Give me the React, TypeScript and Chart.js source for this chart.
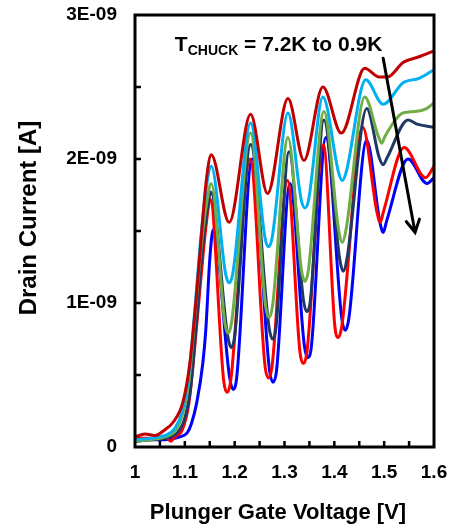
import React, { useEffect, useRef } from 'react';
import { Chart, registerables } from 'chart.js';

Chart.register(...registerables);

const FONT = '"Liberation Sans", Arial, Helvetica, sans-serif';

// Axis ticks (x in V, y in units of 1E-09 A)
const xTickValues = [1, 1.1, 1.2, 1.3, 1.4, 1.5, 1.6];
const xMinorTicks = [1.05, 1.1, 1.15, 1.2, 1.25, 1.3, 1.35, 1.4, 1.45, 1.5, 1.55];
const yTickLabels = ['0', '1E-09', '2E-09', '3E-09'];
const yMinorTicks = [0.5, 1, 1.5, 2, 2.5];

const seriesNames = ['7.2K', 'T2', 'T3', 'T4', 'T5', '0.9K'];
const seriesColors = ['#C00000', '#00B0F0', '#70AD47', '#1F3864', '#FF0000', '#0000FF'];

// Series 1 (7.2K, dark red)
const v1 = [1.0, 1.02, 1.04, 1.06, 1.076, 1.096, 1.11, 1.122, 1.134, 1.143, 1.153, 1.189, 1.232, 1.266, 1.307, 1.339, 1.377, 1.414, 1.461, 1.49, 1.507, 1.538, 1.57, 1.6];
const i1 = [0.07, 0.09, 0.08, 0.12, 0.17, 0.31, 0.58, 1.0, 1.5, 1.85, 2.03, 1.56, 2.31, 1.76, 2.42, 1.99, 2.5, 2.18, 2.63, 2.57, 2.57, 2.67, 2.71, 2.75];
// Series 2 (light blue)
const v2 = [1.0, 1.03, 1.06, 1.08, 1.095, 1.108, 1.12, 1.132, 1.143, 1.153, 1.182, 1.189, 1.196, 1.232, 1.261, 1.268, 1.275, 1.307, 1.334, 1.341, 1.348, 1.377, 1.409, 1.416, 1.423, 1.463, 1.498, 1.538, 1.57, 1.6];
const i2 = [0.05, 0.06, 0.08, 0.13, 0.25, 0.5, 0.95, 1.45, 1.8, 1.95, 1.2, 1.14, 1.2, 2.25, 1.45, 1.39, 1.45, 2.32, 1.71, 1.66, 1.71, 2.43, 1.9, 1.85, 1.9, 2.55, 2.38, 2.53, 2.56, 2.62];
// Series 3 (green)
const v3 = [1.0, 1.03, 1.06, 1.08, 1.095, 1.108, 1.12, 1.133, 1.144, 1.153, 1.18, 1.187, 1.194, 1.232, 1.262, 1.269, 1.276, 1.307, 1.334, 1.341, 1.348, 1.379, 1.409, 1.416, 1.423, 1.461, 1.488, 1.495, 1.502, 1.538, 1.562, 1.585, 1.6];
const i3 = [0.04, 0.05, 0.07, 0.11, 0.22, 0.45, 0.9, 1.4, 1.7, 1.83, 0.87, 0.79, 0.87, 2.18, 0.98, 0.9, 0.98, 2.15, 1.23, 1.15, 1.23, 2.33, 1.5, 1.42, 1.5, 2.43, 2.16, 2.11, 2.16, 2.32, 2.33, 2.35, 2.39];
// Series 4 (navy)
const v4 = [1.0, 1.03, 1.06, 1.085, 1.1, 1.112, 1.124, 1.136, 1.145, 1.152, 1.186, 1.193, 1.2, 1.232, 1.269, 1.276, 1.283, 1.309, 1.338, 1.345, 1.352, 1.379, 1.411, 1.418, 1.425, 1.465, 1.49, 1.498, 1.506, 1.548, 1.568, 1.6];
const i4 = [0.04, 0.05, 0.06, 0.1, 0.2, 0.42, 0.9, 1.4, 1.65, 1.77, 0.77, 0.69, 0.77, 2.1, 0.83, 0.75, 0.83, 2.05, 1.02, 0.94, 1.02, 2.27, 1.3, 1.22, 1.3, 2.35, 2.01, 1.96, 2.01, 2.27, 2.24, 2.22];
// Series 5 (red)
const v5 = [1.0, 1.03, 1.06, 1.072, 1.08, 1.095, 1.108, 1.12, 1.133, 1.143, 1.151, 1.178, 1.185, 1.192, 1.231, 1.261, 1.268, 1.275, 1.306, 1.331, 1.338, 1.345, 1.378, 1.401, 1.408, 1.415, 1.457, 1.485, 1.492, 1.499, 1.54, 1.583, 1.6];
const i5 = [0.06, 0.06, 0.07, 0.04, 0.07, 0.12, 0.3, 0.7, 1.2, 1.55, 1.72, 0.46, 0.38, 0.46, 2.0, 0.56, 0.48, 0.56, 1.85, 0.66, 0.58, 0.66, 2.1, 0.84, 0.76, 0.84, 2.22, 1.64, 1.56, 1.64, 2.08, 1.87, 1.95];
// Series 6 (0.9K, blue)
const v6 = [1.0, 1.03, 1.06, 1.09, 1.105, 1.113, 1.124, 1.136, 1.142, 1.15, 1.157, 1.19, 1.197, 1.204, 1.235, 1.27, 1.277, 1.284, 1.311, 1.34, 1.347, 1.354, 1.383, 1.415, 1.422, 1.429, 1.465, 1.491, 1.498, 1.505, 1.548, 1.586, 1.6];
const i6 = [0.04, 0.05, 0.05, 0.07, 0.1, 0.16, 0.31, 0.58, 0.81, 1.3, 1.51, 0.48, 0.4, 0.48, 2.0, 0.53, 0.45, 0.53, 1.83, 0.7, 0.62, 0.7, 2.15, 0.89, 0.81, 0.89, 2.13, 1.57, 1.49, 1.57, 2.0, 1.83, 1.87];

const seriesV = [v1, v2, v3, v4, v5, v6];
const seriesI = [i1, i2, i3, i4, i5, i6];

// Annotation arrow (data coordinates)
const arrowFrom = { x: 1.498, y: 2.7 };
const arrowTo = { x: 1.562, y: 1.49 };
const annotAnchor = { x: 1.08, y: 2.75 };

const framePlugin = {
  id: 'frameAndText',
  afterDraw(chart: any) {
    const { ctx, chartArea: a, scales } = chart;
    const xs = scales.x;
    const ys = scales.y;
    ctx.save();
    ctx.strokeStyle = '#000';
    ctx.lineWidth = 3;
    ctx.strokeRect(a.left, a.top, a.right - a.left, a.bottom - a.top);
    ctx.lineWidth = 2.5;
    ctx.beginPath();
    xMinorTicks.forEach((v) => {
      const px = xs.getPixelForValue(v);
      ctx.moveTo(px, a.bottom);
      ctx.lineTo(px, a.bottom - 6);
    });
    yMinorTicks.forEach((v) => {
      const py = ys.getPixelForValue(v);
      ctx.moveTo(a.left, py);
      ctx.lineTo(a.left + 6, py);
    });
    ctx.stroke();

    // axis titles
    ctx.fillStyle = '#000';
    ctx.textAlign = 'center';
    ctx.textBaseline = 'middle';
    ctx.font = `bold 22px ${FONT}`;
    ctx.fillText('Plunger Gate Voltage [V]', 278, 513);
    ctx.save();
    ctx.translate(29, 218);
    ctx.rotate(-Math.PI / 2);
    ctx.font = `bold 24px ${FONT}`;
    ctx.fillText('Drain Current [A]', 0, 0);
    ctx.restore();

    // annotation text
    const tx = xs.getPixelForValue(annotAnchor.x);
    const ty = ys.getPixelForValue(annotAnchor.y);
    ctx.textAlign = 'left';
    ctx.textBaseline = 'alphabetic';
    ctx.font = `bold 21px ${FONT}`;
    ctx.fillText('T', tx, ty);
    let cx = tx + ctx.measureText('T').width;
    ctx.font = `bold 14px ${FONT}`;
    ctx.fillText('CHUCK', cx, ty + 4);
    cx += ctx.measureText('CHUCK').width;
    ctx.font = `bold 21px ${FONT}`;
    ctx.fillText(' = 7.2K to 0.9K', cx, ty);

    // arrow
    const x0 = xs.getPixelForValue(arrowFrom.x);
    const y0 = ys.getPixelForValue(arrowFrom.y);
    const x1 = xs.getPixelForValue(arrowTo.x);
    const y1 = ys.getPixelForValue(arrowTo.y);
    ctx.lineWidth = 3;
    ctx.lineCap = 'round';
    ctx.beginPath();
    ctx.moveTo(x0, y0);
    ctx.lineTo(x1, y1);
    const ang = Math.atan2(y1 - y0, x1 - x0);
    const hl = 14;
    const spread = 0.5;
    ctx.moveTo(x1 - hl * Math.cos(ang - spread), y1 - hl * Math.sin(ang - spread));
    ctx.lineTo(x1, y1);
    ctx.lineTo(x1 - hl * Math.cos(ang + spread), y1 - hl * Math.sin(ang + spread));
    ctx.stroke();
    ctx.restore();
  },
};

export default function App() {
  const canvasRef = useRef<HTMLCanvasElement | null>(null);

  useEffect(() => {
    document.body.style.margin = '0';
    const canvas = canvasRef.current;
    if (!canvas) return;
    const datasets = seriesNames.map((name, k) => ({
      label: name,
      data: seriesV[k].map((v, j) => ({ x: v, y: seriesI[k][j] })),
      borderColor: seriesColors[k],
      backgroundColor: seriesColors[k],
      borderWidth: 3,
      pointRadius: 0,
      cubicInterpolationMode: 'monotone' as const,
      fill: false,
    }));
    const chart = new Chart(canvas, {
      type: 'line',
      data: { datasets },
      options: {
        responsive: false,
        animation: false,
        maintainAspectRatio: false,
        layout: { padding: { left: 0, right: 24, top: 15, bottom: 0 } },
        plugins: { legend: { display: false }, tooltip: { enabled: false }, title: { display: false } },
        scales: {
          x: {
            type: 'linear',
            min: 1,
            max: 1.6,
            afterBuildTicks: (scale: any) => {
              scale.ticks = xTickValues.map((v) => ({ value: v }));
            },
            afterFit: (scale: any) => {
              scale.height = 82;
              scale.paddingLeft = 0;
              scale.paddingRight = 0;
            },
            grid: { display: false, drawTicks: false },
            border: { display: false },
            ticks: {
              padding: 14,
              color: '#000',
              font: { family: FONT, size: 19, weight: 'bold' },
              maxRotation: 0,
              callback: (v: any) => (Number(v) === 1 ? '1' : Number(v).toFixed(1)),
            },
          },
          y: {
            type: 'linear',
            min: 0,
            max: 3,
            afterBuildTicks: (scale: any) => {
              scale.ticks = yTickLabels.map((_, k) => ({ value: k }));
            },
            afterFit: (scale: any) => {
              scale.width = 135;
              scale.paddingTop = 0;
              scale.paddingBottom = 0;
            },
            grid: { display: false, drawTicks: false },
            border: { display: false },
            ticks: {
              padding: 18,
              color: '#000',
              font: { family: FONT, size: 19, weight: 'bold' },
              callback: (v: any) => yTickLabels[Math.round(Number(v))] ?? '',
            },
          },
        },
      },
      plugins: [framePlugin],
    });
    return () => chart.destroy();
  }, []);

  return (
    <div style={{ width: 458, height: 529, background: '#fff' }}>
      <canvas ref={canvasRef} width={458} height={529} />
    </div>
  );
}
